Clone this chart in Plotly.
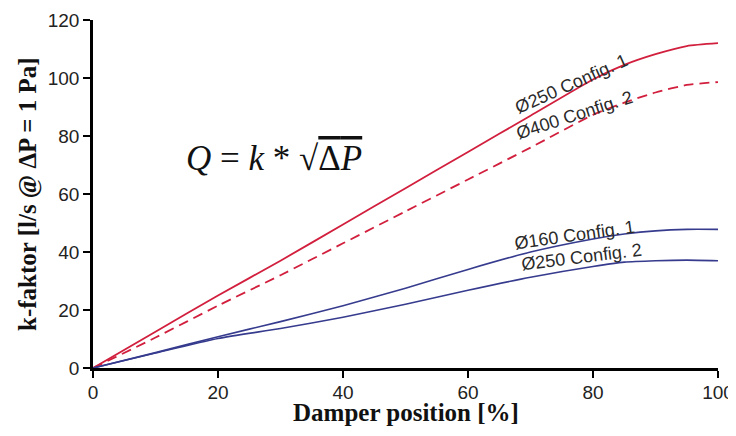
import plotly.graph_objects as go

# Damper position [%]
positions = [0, 10, 20, 30, 40, 50, 60, 70, 80, 85, 90, 95, 100]

# k-faktor values per configuration
k_d250_cfg1 = [0, 12.5, 25, 37, 49.5, 62, 74.5, 87, 99.5, 104.5, 108.2, 111, 112]
k_d400_cfg2 = [0, 10.5, 21.5, 32, 43, 54, 65, 76, 87.3, 91.5, 95, 97.6, 98.6]
k_d160_cfg1 = [0, 5.3, 10.8, 16, 21.5, 27.5, 34, 40, 44.5, 46.2, 47.3, 47.8, 47.8]
k_d250_cfg2 = [0, 5.2, 10.2, 13.6, 17.5, 22, 26.8, 31.3, 35, 36.5, 37, 37.2, 37]

x_ticks = [0, 20, 40, 60, 80, 100]
y_ticks = [0, 20, 40, 60, 80, 100, 120]

series_labels = ["Ø250 Config. 1", "Ø400 Config. 2", "Ø160 Config. 1", "Ø250 Config. 2"]

RED = "#d11f3d"
BLUE = "#363b8e"

fig = go.Figure()
fig.add_trace(go.Scatter(x=positions, y=k_d250_cfg1, mode="lines", name=series_labels[0],
                         line=dict(color=RED, width=1.8, shape="spline", smoothing=0.6)))
fig.add_trace(go.Scatter(x=positions, y=k_d400_cfg2, mode="lines", name=series_labels[1],
                         line=dict(color=RED, width=1.8, dash="10px,6px", shape="spline", smoothing=0.6)))
fig.add_trace(go.Scatter(x=positions, y=k_d160_cfg1, mode="lines", name=series_labels[2],
                         line=dict(color=BLUE, width=1.6, shape="spline", smoothing=0.6)))
fig.add_trace(go.Scatter(x=positions, y=k_d250_cfg2, mode="lines", name=series_labels[3],
                         line=dict(color=BLUE, width=1.6, shape="spline", smoothing=0.6)))

label_font = dict(family="Liberation Sans, Arial", size=18, color="#2a2a2a")
label_pos = [(76.5, 97.9, -24), (77.1, 87.2, -18), (77.1, 45.9, -8), (78.2, 38.3, -7)]
for txt, (lx, ly, ang) in zip(series_labels, label_pos):
    fig.add_annotation(x=lx, y=ly, text=txt, showarrow=False, textangle=ang,
                       font=label_font, xanchor="center", yanchor="middle")

fig.add_annotation(x=29, y=72.4, showarrow=False,
                   text="<i>Q</i> = <i>k</i> * √<span style='text-decoration:overline'>Δ<i>P</i></span>",
                   font=dict(family="Liberation Serif, Times New Roman", size=35, color="#111"),
                   xanchor="center", yanchor="middle")

title_font = dict(family="Liberation Serif, Times New Roman", size=25, color="#111")
fig.add_annotation(xref="paper", yref="paper", x=0.5, y=-0.128, showarrow=False,
                   text="<b>Damper position [%]</b>", font=title_font,
                   xanchor="center", yanchor="middle")
fig.add_annotation(xref="paper", yref="paper", x=-0.104, y=0.5, showarrow=False,
                   text="<b>k-faktor [l/s @ ΔP = 1 Pa]</b>", font=title_font, textangle=-90,
                   xanchor="center", yanchor="middle")

axis_common = dict(showline=True, linecolor="black", linewidth=2.5, ticks="outside",
                   ticklen=7, tickwidth=2, tickcolor="black", showgrid=False, zeroline=False,
                   automargin=False,
                   tickfont=dict(family="Liberation Sans, Arial", size=19, color="#222"))

fig.update_layout(
    width=736, height=436,
    margin=dict(l=85, r=26, t=12, b=76),
    paper_bgcolor="white", plot_bgcolor="white",
    showlegend=False,
    xaxis=dict(range=[0, 100], tickvals=x_ticks, ticklabelstandoff=-2, **axis_common),
    yaxis=dict(range=[0, 120], tickvals=y_ticks, **axis_common),
)

fig.write_html("out.html")
